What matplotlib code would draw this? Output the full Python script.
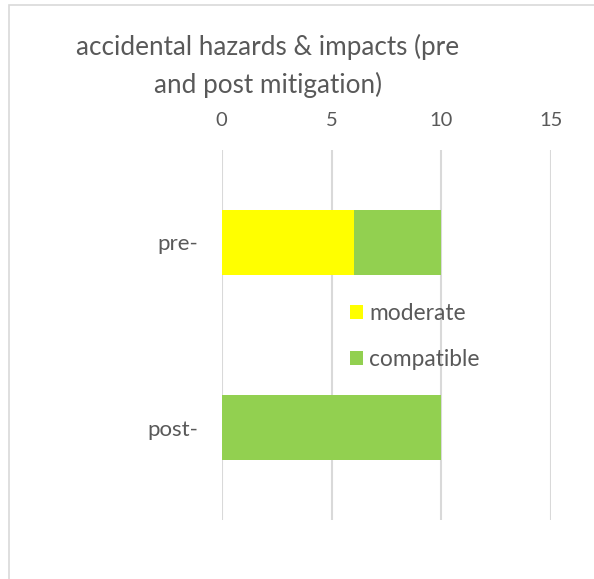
import matplotlib
matplotlib.use("Agg")
import matplotlib.pyplot as plt
from matplotlib.patches import Rectangle, Patch

plt.rcParams['font.family'] = ['Lato', 'DejaVu Sans']

categories = ["pre-", "post-"]
series_names = ["moderate", "compatible"]
moderate = [6, 0]
compatible = [4, 10]
xticks = [0, 5, 10, 15]
title_lines = ["accidental hazards & impacts (pre", "and post mitigation)"]

colors = ["#FFFF00", "#92D050"]
text_color = "#595959"
grid_color = "#D9D9D9"

W, H = 594, 579
fig = plt.figure(figsize=(W / 100, H / 100), dpi=100)

# chart frame (only left/top visible)
fig.patches.append(Rectangle((9 / W, -0.1), 1.2, (H - 5) / H + 0.1,
                             transform=fig.transFigure, fill=False,
                             edgecolor=grid_color, linewidth=1.2))

ax = fig.add_axes([221.7 / W, (H - 520) / H, 329.6 / W, 370 / H])
y = list(range(len(categories)))
ax.barh(y, moderate, height=0.35, color=colors[0], label=series_names[0])
ax.barh(y, compatible, left=moderate, height=0.35, color=colors[1],
        label=series_names[1])
ax.set_ylim(1.5, -0.5)
ax.set_xlim(0, 15)
ax.set_xticks(xticks)
ax.set_yticks(y)
ax.set_yticklabels(categories)
ax.xaxis.tick_top()
ax.tick_params(axis='x', length=0, pad=15, labelsize=14.5, labelcolor=text_color)
ax.tick_params(axis='y', length=0, pad=17, labelsize=16, labelcolor=text_color)
for s in ax.spines.values():
    s.set_visible(False)
ax.grid(axis='x', color=grid_color, linewidth=1.5)
ax.set_axisbelow(True)

handles = [Patch(facecolor=c, label=n) for c, n in zip(colors, series_names)]
fig.legend(handles=handles, loc='upper left',
           bbox_to_anchor=(350 / W, 1 - 303 / H), frameon=False,
           borderaxespad=0, borderpad=0,
           fontsize=16.4, labelcolor=text_color, handlelength=0.57,
           handleheight=0.57, handletextpad=0.26, labelspacing=1.1)

for line, base in zip(title_lines, [55, 93]):
    fig.text(268 / W, 1 - base / H, line, ha='center', va='baseline',
             fontsize=18.8, color=text_color)

fig.savefig("out.png", dpi=100, facecolor="white")
